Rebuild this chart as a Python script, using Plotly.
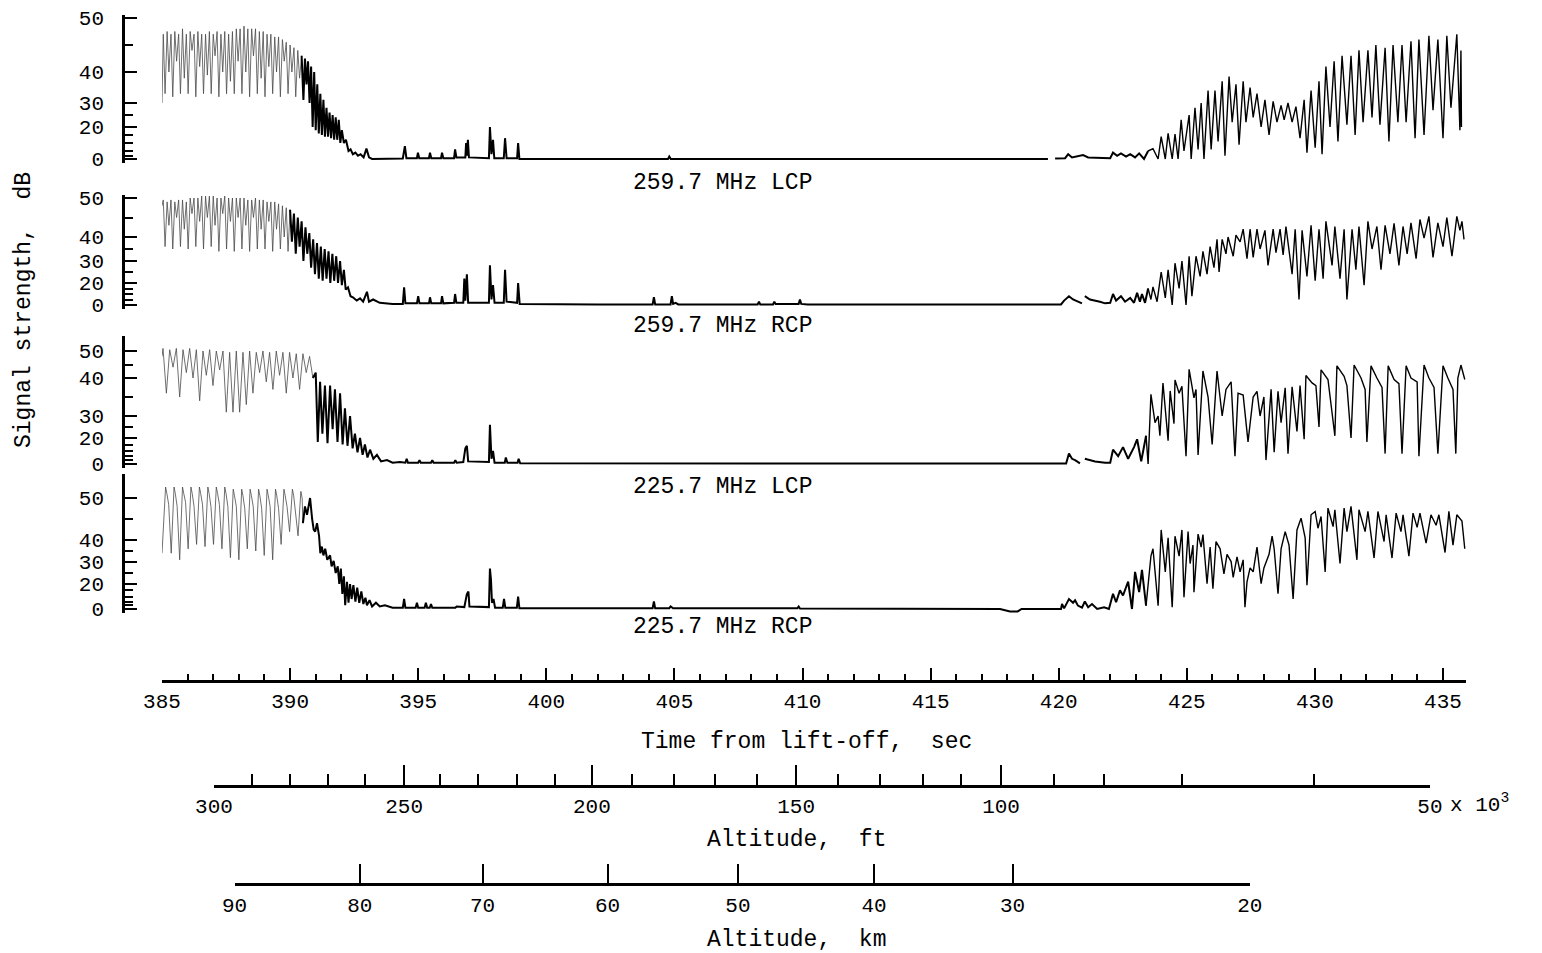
import numpy as np
import plotly.graph_objects as go

# ---------------- data ----------------
TIME_MAJOR = [385, 390, 395, 400, 405, 410, 415, 420, 425, 430, 435]
TIME_RANGE = [385, 435.9]

# altitude scales (time at which each altitude value is reached)
ALT_FT_VALUES = [300, 290, 280, 270, 260, 250, 240, 230, 220, 210, 200, 190, 180, 170, 160,
                 150, 140, 130, 120, 110, 100, 90, 80, 70, 60, 50]
ALT_FT_TIMES = [387.03, 388.51, 390.00, 391.48, 392.92, 394.45, 395.85, 397.33, 398.86, 400.34,
                401.78, 403.35, 404.98, 406.58, 408.22, 409.75, 411.39, 413.02, 414.70, 416.19,
                417.75, 419.82, 421.77, 424.81, 429.96, 434.49]
ALT_FT_LABELED = [300, 250, 200, 150, 100, 50]
ALT_KM_VALUES = [90, 80, 70, 60, 50, 40, 30, 20]
ALT_KM_TIMES = [387.83, 392.72, 397.51, 402.39, 407.48, 412.79, 418.20, 427.46]

PANEL_NAMES = ["259.7 MHz LCP", "259.7 MHz RCP", "225.7 MHz LCP", "225.7 MHz RCP"]
DB_TICKS = [0, 20, 30, 40, 50]

# Panel 1: 259.7 MHz LCP  (time s, signal dB)
P1_SAMPLES = [
    (385.00, 30), (385.05, 47), (385.12, 33), (385.20, 47.5), (385.27, 40), (385.35, 47),
    (385.42, 32), (385.50, 47.5), (385.57, 42), (385.65, 47), (385.72, 33), (385.80, 48),
    (385.87, 38), (385.95, 47), (386.02, 33), (386.10, 47.5), (386.17, 44), (386.25, 47),
    (386.32, 32), (386.40, 47.5), (386.47, 41), (386.55, 47), (386.62, 33), (386.70, 47),
    (386.77, 39), (386.85, 47.5), (386.92, 33), (387.00, 47), (387.07, 43), (387.15, 47.5),
    (387.22, 32), (387.30, 47), (387.37, 40), (387.45, 47.5), (387.52, 33), (387.60, 47),
    (387.67, 37), (387.75, 47.5), (387.82, 33), (387.90, 48), (387.97, 42), (388.05, 48),
    (388.12, 33), (388.20, 48.5), (388.27, 40), (388.35, 48), (388.42, 32), (388.50, 48),
    (388.57, 43), (388.65, 48), (388.72, 33), (388.80, 47.5), (388.87, 38), (388.95, 47.5),
    (389.02, 32), (389.10, 47), (389.17, 41), (389.25, 47), (389.32, 33), (389.40, 46.5),
    (389.47, 40), (389.55, 46.5), (389.62, 32), (389.70, 46), (389.77, 42), (389.85, 45.5),
    (389.92, 33), (390.00, 45), (390.07, 40), (390.15, 44.5), (390.22, 32), (390.30, 44),
    (390.37, 38), (390.45, 43),
    (390.52, 31), (390.58, 42.5), (390.64, 36), (390.70, 42), (390.76, 30), (390.82, 41),
    (390.88, 20), (390.94, 40), (391.00, 18), (391.06, 36), (391.12, 16), (391.18, 33),
    (391.24, 15), (391.30, 31), (391.36, 14), (391.42, 28), (391.48, 14), (391.54, 26),
    (391.60, 13), (391.66, 25), (391.72, 12), (391.78, 24), (391.84, 12), (391.90, 23),
    (391.96, 10), (392.02, 18), (392.10, 10), (392.18, 12), (392.28, 5), (392.36, 6),
    (392.45, 3), (392.55, 4), (392.65, 2), (392.75, 3), (392.87, 1), (392.98, 6.5),
    (393.08, 1), (393.20, 0), (393.40, 0), (394.40, 0.3), (394.48, 8), (394.54, 0.5),
    (394.95, 0.5), (394.99, 4), (395.04, 0.5), (395.42, 0.5), (395.46, 4), (395.51, 0.5),
    (395.89, 0.5), (395.93, 4), (395.98, 0.5), (396.40, 0.5), (396.44, 6), (396.49, 1),
    (396.84, 1), (396.87, 10), (396.90, 2), (396.94, 12), (396.98, 1), (397.76, 0.5),
    (397.80, 20), (397.86, 3), (397.92, 12), (397.97, 0.5), (398.34, 0.5), (398.39, 13),
    (398.45, 0.5), (398.86, 0.5), (398.90, 10), (398.95, 0), (404.75, 0), (404.80, 1.5),
    (404.86, 0), (419.58, 0), (419.70, None), (419.86, 0.3), (420.25, 0.5), (420.37, 3),
    (420.52, 1), (420.95, 2.5), (421.15, 1), (422.01, 0.5), (422.12, 4), (422.28, 2),
    (422.43, 3.5), (422.63, 1.5), (422.79, 3), (422.98, 1), (423.14, 3.5), (423.33, 0),
    (423.49, 5), (423.68, 6.5), (423.88, 0), (424.00, 14), (424.16, 0), (424.27, 16),
    (424.43, 0), (424.54, 15.5), (424.66, 0), (424.78, 23), (424.89, 5), (425.09, 25),
    (425.17, 0), (425.32, 28), (425.44, 6), (425.56, 30), (425.67, 0), (425.83, 34),
    (425.95, 6), (426.10, 34), (426.22, 11), (426.38, 37), (426.49, 2), (426.65, 38.5),
    (426.77, 22), (426.92, 36), (427.04, 9), (427.20, 37), (427.31, 22), (427.47, 35),
    (427.59, 24), (427.74, 33), (427.90, 20), (428.05, 31), (428.21, 15), (428.37, 30.5),
    (428.52, 22), (428.68, 29), (428.80, 23), (428.95, 30), (429.11, 22), (429.26, 28.5),
    (429.42, 13), (429.58, 31), (429.69, 4), (429.85, 34), (430.01, 7), (430.16, 37),
    (430.28, 3), (430.43, 41), (430.59, 20), (430.75, 42), (430.90, 11), (431.06, 43),
    (431.25, 21), (431.41, 43), (431.57, 15), (431.72, 44), (431.88, 22), (432.07, 44),
    (432.23, 24), (432.38, 45), (432.54, 21), (432.74, 44.5), (432.89, 11), (433.05, 45),
    (433.24, 22), (433.40, 45), (433.56, 22), (433.75, 45.7), (433.91, 13), (434.06, 46),
    (434.26, 15), (434.45, 46.7), (434.61, 27), (434.80, 46), (435.00, 13), (435.15, 46.7),
    (435.31, 28), (435.54, 47), (435.66, 18), (435.70, 44), (435.72, 20),
]

# Panel 2: 259.7 MHz RCP
P2_SAMPLES = [
    (385.00, 48), (385.05, 49.5), (385.12, 36), (385.20, 49), (385.27, 43), (385.35, 49.5),
    (385.42, 35), (385.50, 49), (385.57, 45), (385.65, 49.5), (385.72, 36), (385.80, 49.5),
    (385.87, 42), (385.95, 49), (386.02, 35), (386.10, 50), (386.17, 46), (386.25, 50),
    (386.32, 36), (386.40, 50), (386.47, 44), (386.55, 50.5), (386.62, 35), (386.70, 50.5),
    (386.77, 45), (386.85, 50.5), (386.92, 36), (387.00, 50.5), (387.07, 43), (387.15, 50),
    (387.22, 34), (387.30, 50), (387.37, 46), (387.45, 50.5), (387.52, 35), (387.60, 50),
    (387.67, 44), (387.75, 50), (387.82, 34), (387.90, 50), (387.97, 45), (388.05, 50),
    (388.12, 35), (388.20, 50), (388.27, 43), (388.35, 49.5), (388.42, 34), (388.50, 49.5),
    (388.57, 45), (388.65, 50), (388.72, 35), (388.80, 49.5), (388.87, 42), (388.95, 49.5),
    (389.02, 35), (389.10, 49), (389.17, 44), (389.25, 49), (389.32, 34), (389.40, 49),
    (389.47, 42), (389.55, 48.5), (389.62, 35), (389.70, 48), (389.77, 40), (389.85, 47.5),
    (389.92, 34), (390.00, 47),
    (390.07, 38), (390.15, 46), (390.22, 33), (390.30, 45), (390.37, 36), (390.45, 44),
    (390.52, 30), (390.60, 42.5), (390.67, 33), (390.75, 41), (390.82, 27), (390.90, 39),
    (390.97, 24), (391.05, 37.5), (391.12, 22), (391.20, 36), (391.27, 21), (391.35, 35),
    (391.42, 22), (391.50, 34), (391.57, 20), (391.65, 33), (391.72, 21), (391.80, 32),
    (391.87, 20), (391.95, 30), (392.02, 18), (392.10, 26), (392.17, 14), (392.26, 16),
    (392.36, 8), (392.45, 7), (392.60, 4), (392.73, 6), (392.85, 3), (393.00, 12),
    (393.08, 3), (393.24, 5), (393.50, 2), (394.00, 1), (394.40, 1), (394.45, 16),
    (394.50, 1.5), (394.95, 1.5), (395.00, 8), (395.05, 1.5), (395.42, 1.5), (395.46, 7),
    (395.51, 1.5), (395.89, 1.5), (395.93, 8), (395.98, 1.5), (396.40, 2), (396.44, 10),
    (396.49, 2), (396.76, 2), (396.80, 22), (396.84, 4), (396.90, 24), (396.95, 2),
    (397.76, 2), (397.80, 28), (397.86, 5), (397.92, 18), (397.98, 2), (398.34, 2),
    (398.39, 26), (398.45, 3), (398.86, 2), (398.90, 20), (398.96, 1), (402.00, 0.5),
    (404.15, 0.5), (404.20, 7), (404.25, 0.5), (404.85, 0.5), (404.90, 8), (404.95, 1),
    (405.05, 2), (405.15, 0.5), (408.25, 0.5), (408.30, 3), (408.35, 0.5), (408.85, 0.5),
    (408.90, 3), (408.95, 1), (409.85, 1), (409.90, 5), (409.95, 1), (410.20, 0.5),
    (417.71, 0), (420.09, 0.5), (420.21, 4), (420.40, 8), (420.56, 5), (420.75, 3),
    (420.91, 1.5), (420.96, None), (421.02, 8), (421.22, 5), (421.61, 3), (421.81, 1.5),
    (422.01, 2), (422.12, 10), (422.24, 4), (422.43, 8), (422.59, 3), (422.79, 6.5),
    (422.94, 2), (423.06, 11), (423.17, 3), (423.25, 10), (423.37, 2), (423.49, 15),
    (423.60, 5), (423.68, 16.5), (423.84, 3), (424.00, 25), (424.16, 6.5), (424.27, 26),
    (424.43, 0), (424.54, 29), (424.70, 15), (424.81, 30), (424.97, 0), (425.09, 32),
    (425.20, 8), (425.36, 32), (425.52, 23), (425.63, 34), (425.79, 24), (425.91, 36),
    (426.06, 27), (426.18, 39), (426.26, 25), (426.38, 39), (426.53, 33), (426.61, 40),
    (426.81, 32), (426.92, 40.5), (427.08, 38), (427.20, 42), (427.35, 31), (427.47, 42),
    (427.59, 31.5), (427.74, 42), (427.86, 35), (428.05, 41.7), (428.17, 28), (428.37, 42),
    (428.48, 33.5), (428.64, 42), (428.76, 32.5), (428.87, 42.7), (429.11, 24), (429.23, 42),
    (429.38, 5), (429.50, 41.7), (429.69, 23), (429.85, 43), (430.01, 21), (430.16, 42),
    (430.32, 22), (430.43, 44), (430.67, 28), (430.78, 42.7), (430.98, 22), (431.14, 42),
    (431.25, 5), (431.45, 42), (431.60, 26), (431.72, 42.7), (431.92, 18), (432.07, 44),
    (432.23, 35), (432.42, 42.7), (432.58, 26), (432.74, 43), (432.93, 33), (433.09, 43.5),
    (433.28, 28), (433.44, 42.7), (433.60, 33), (433.75, 43.6), (433.95, 31), (434.10, 44.5),
    (434.26, 39.5), (434.45, 45.3), (434.61, 31.5), (434.80, 43.6), (435.00, 36), (435.15, 45),
    (435.35, 32), (435.54, 45.3), (435.66, 41.7), (435.74, 44), (435.82, 39),
]

# Panel 3: 225.7 MHz LCP
P3_SAMPLES = [
    (385.00, 48), (385.04, 51), (385.17, 36), (385.30, 50.5), (385.43, 44), (385.56, 51),
    (385.69, 35), (385.82, 50.5), (385.95, 42), (386.08, 51), (386.21, 40), (386.34, 50.5),
    (386.47, 34), (386.60, 50), (386.73, 41), (386.86, 50.5), (386.99, 38), (387.12, 50),
    (387.25, 43), (387.38, 50), (387.51, 31), (387.64, 49.5), (387.77, 31), (387.90, 50),
    (388.03, 31), (388.16, 49.5), (388.29, 33), (388.42, 50), (388.55, 36), (388.68, 49.5),
    (388.81, 42), (388.94, 50), (389.07, 39), (389.20, 49.5), (389.33, 37), (389.46, 50),
    (389.59, 41), (389.72, 49.5), (389.85, 36), (389.98, 49.5), (390.11, 40), (390.24, 49),
    (390.37, 37), (390.50, 49), (390.63, 42), (390.76, 48), (390.89, 40),
    (391.00, 42), (391.08, 17), (391.17, 39), (391.26, 22), (391.36, 38), (391.46, 16),
    (391.56, 38), (391.66, 24), (391.75, 37), (391.85, 17), (391.95, 36), (392.05, 15),
    (392.14, 32), (392.24, 14), (392.34, 30), (392.44, 12), (392.53, 22), (392.63, 9),
    (392.73, 20), (392.83, 7), (392.92, 15), (393.02, 5), (393.12, 11), (393.25, 4),
    (393.39, 7), (393.55, 2), (393.78, 3), (394.00, 1), (394.29, 1.5), (394.50, 1),
    (394.55, 4), (394.60, 1), (395.00, 1), (395.05, 3), (395.10, 1), (395.50, 1),
    (395.55, 3), (395.60, 1), (396.40, 1), (396.45, 3), (396.50, 1), (396.76, 1.5),
    (396.84, 12), (396.90, 14), (396.95, 2), (397.76, 1.5), (397.80, 26), (397.86, 4),
    (397.92, 10), (397.98, 1), (398.38, 1), (398.42, 5), (398.48, 1), (398.88, 1),
    (398.92, 4), (398.98, 0.5), (417.71, 0.3), (420.29, 0.3), (420.40, 8), (420.52, 4),
    (420.64, 3), (420.83, 0.5), (420.92, None), (421.02, 4), (421.42, 2), (421.81, 1),
    (422.01, 1), (422.12, 11), (422.32, 6), (422.51, 13), (422.71, 4), (422.94, 13),
    (423.06, 19), (423.22, 2), (423.41, 21), (423.49, 0), (423.60, 35.7), (423.76, 27),
    (423.88, 30), (423.95, 21), (424.07, 38.7), (424.27, 18), (424.35, 36.6), (424.50, 26.5),
    (424.54, 39.5), (424.70, 36), (424.81, 37.8), (424.97, 6), (425.09, 43.2), (425.28, 34.8),
    (425.36, 37), (425.44, 7), (425.63, 42.6), (425.83, 35), (425.99, 15), (426.18, 42.6),
    (426.38, 30), (426.53, 37), (426.73, 39), (426.88, 6), (427.00, 36), (427.20, 35.5),
    (427.39, 17), (427.59, 35), (427.74, 36.5), (427.86, 30), (428.01, 35), (428.09, 3),
    (428.29, 37), (428.41, 9), (428.56, 36.5), (428.68, 27), (428.84, 37.4), (428.95, 8),
    (429.11, 37.7), (429.30, 23), (429.42, 38), (429.58, 19), (429.65, 40.9), (429.89, 38.7),
    (430.04, 38), (430.16, 25), (430.24, 43), (430.51, 39.6), (430.78, 21), (430.86, 44.5),
    (431.14, 40.6), (431.25, 38), (431.41, 20), (431.53, 44.8), (431.80, 40), (431.96, 37),
    (432.03, 17), (432.19, 44.5), (432.42, 40), (432.62, 37.5), (432.74, 8), (432.86, 44.5),
    (433.09, 39.6), (433.28, 38.5), (433.40, 8), (433.56, 44.5), (433.75, 40), (433.99, 39),
    (434.06, 6), (434.26, 44.8), (434.45, 40), (434.65, 37.5), (434.80, 8), (435.00, 44.5),
    (435.19, 40), (435.39, 37), (435.50, 8), (435.58, 40), (435.70, 44.8), (435.85, 39.6),
]

# Panel 4: 225.7 MHz RCP
P4_SAMPLES = [
    (385.00, 34),
    (385.14, 52.5), (385.19, 51), (385.26, 48.5), (385.36, 34),
    (385.47, 52.5), (385.52, 51), (385.59, 48), (385.69, 31),
    (385.80, 52.5), (385.85, 51), (385.92, 49), (386.02, 36),
    (386.13, 52.5), (386.18, 51), (386.25, 48), (386.35, 38),
    (386.46, 52.5), (386.51, 51), (386.58, 48.5), (386.68, 37),
    (386.79, 52.5), (386.84, 51), (386.91, 48), (387.01, 38),
    (387.12, 52.5), (387.17, 51), (387.24, 48.5), (387.34, 36),
    (387.45, 52.5), (387.50, 51), (387.57, 48), (387.67, 32),
    (387.78, 52), (387.83, 50.5), (387.90, 48), (388.00, 31),
    (388.11, 52), (388.16, 50.5), (388.23, 47.5), (388.33, 36),
    (388.44, 52), (388.49, 50.5), (388.56, 48), (388.66, 35),
    (388.77, 52), (388.82, 50.5), (388.89, 47.5), (388.99, 33),
    (389.10, 52), (389.15, 50.5), (389.22, 48), (389.32, 31),
    (389.43, 52), (389.48, 50.5), (389.55, 47.5), (389.65, 38),
    (389.76, 52), (389.81, 50.5), (389.88, 48), (389.98, 42),
    (390.09, 52), (390.14, 50.5), (390.21, 46.5), (390.31, 41),
    (390.42, 51.5), (390.47, 50), (390.50, 44),
    (390.58, 48), (390.66, 46), (390.78, 50), (390.86, 45), (390.92, 42.5), (390.98, 42),
    (391.05, 44), (391.13, 41), (391.18, 34), (391.24, 37), (391.30, 33), (391.37, 36),
    (391.45, 31), (391.56, 33), (391.62, 28), (391.70, 30.5), (391.78, 25), (391.86, 28),
    (391.92, 20), (391.98, 27), (392.04, 12), (392.10, 23.5), (392.15, 3), (392.22, 21),
    (392.28, 5), (392.34, 20), (392.40, 8), (392.47, 19), (392.55, 6), (392.62, 17),
    (392.70, 5), (392.78, 14), (392.86, 4), (392.94, 9), (393.00, 3), (393.10, 7),
    (393.20, 2), (393.35, 5), (393.50, 2), (393.70, 3), (394.00, 1), (394.40, 1),
    (394.45, 8), (394.50, 1), (394.90, 1), (394.95, 5), (395.00, 1), (395.25, 1),
    (395.30, 5), (395.35, 1), (395.45, 1), (395.50, 4), (395.55, 1), (396.45, 1),
    (396.50, 2), (396.80, 1.5), (396.90, 12), (396.96, 14), (397.00, 2), (397.76, 1.5),
    (397.80, 27), (397.84, 22), (397.88, 5), (397.94, 8), (398.00, 1), (398.30, 1),
    (398.35, 8), (398.40, 1), (398.85, 1), (398.90, 10), (398.95, 0.5), (404.15, 0.5),
    (404.20, 6), (404.25, 0.5), (404.80, 0.5), (404.85, 2), (404.95, 0.5), (409.80, 0.5),
    (409.85, 2), (409.90, 0.3), (417.71, 0), (418.10, -2), (418.40, -2), (418.55, 0),
    (420.09, 0), (420.13, 4), (420.21, 0.5), (420.40, 8), (420.56, 5), (420.64, 7),
    (420.75, 2.7), (420.91, 1), (421.02, 6), (421.15, 1.4), (421.30, 4), (421.50, 0),
    (421.77, 1.4), (421.96, 0), (422.12, 12.2), (422.24, 5.4), (422.39, 14.9), (422.51, 10.8),
    (422.71, 21.1), (422.86, 0), (422.98, 25.5), (423.14, 13.5), (423.25, 26.4), (423.41, 2.7),
    (423.60, 32.7), (423.68, 36), (423.80, 21), (423.88, 2.7), (424.00, 42.4), (424.16, 25.5),
    (424.27, 40.5), (424.43, 1.4), (424.54, 40.9), (424.70, 32.7), (424.81, 42.4), (424.89, 9.5),
    (425.05, 42), (425.13, 29.3), (425.24, 37.7), (425.28, 13.5), (425.44, 41.4), (425.56, 36.8),
    (425.63, 41.3), (425.79, 20.1), (425.91, 36.8), (426.02, 16.2), (426.14, 39.3), (426.30, 36),
    (426.45, 24.6), (426.57, 33.5), (426.73, 30.2), (426.81, 23), (426.96, 32.3), (427.08, 25.5),
    (427.20, 31), (427.27, 1.4), (427.35, 21), (427.47, 27.3), (427.59, 25.5), (427.74, 36.8),
    (427.90, 20.2), (428.01, 27.3), (428.21, 33.5), (428.33, 40.9), (428.41, 36), (428.56, 12.2),
    (428.68, 36), (428.84, 42), (428.99, 37.7), (429.15, 8.1), (429.30, 42.4), (429.46, 45.2),
    (429.62, 40.5), (429.69, 19), (429.85, 46), (430.01, 46.8), (430.12, 42.8), (430.24, 45.6),
    (430.40, 25.5), (430.51, 47.6), (430.71, 43.2), (430.78, 47.2), (430.98, 29.3), (431.14, 47.6),
    (431.25, 42), (431.41, 48), (431.64, 31), (431.72, 47.2), (431.96, 42), (432.07, 46.8),
    (432.31, 31.8), (432.46, 46.8), (432.70, 39.3), (432.78, 46), (433.01, 31.8), (433.17, 46.4),
    (433.36, 42), (433.44, 46), (433.67, 32.7), (433.83, 46.4), (433.99, 43), (434.10, 46.4),
    (434.34, 38.6), (434.53, 46), (434.73, 43.5), (434.84, 46), (435.08, 34.3), (435.23, 46.8),
    (435.39, 37.7), (435.54, 46), (435.74, 44.5), (435.85, 36),
]

ALL_SAMPLES = [P1_SAMPLES, P2_SAMPLES, P3_SAMPLES, P4_SAMPLES]
FAST_END = [390.45, 390.00, 390.89, 390.50]   # end of the fast-writing (faint) segment
OSC_START = 423.41                            # start of the re-acquisition oscillations

# ---------------- layout / scales ----------------
W, H = 1542, 953
FONT = "Liberation Mono, DejaVu Sans Mono, monospace"
X0_PX, PX_PER_S = 162.0, 25.62
YAX_PX = 123.0

# non-linear dB scale of each strip (recorder calibration)
SCALE_DB = [-5, 0, 20, 30, 40, 50, 55]
SCALE_U = [
    [-6, 0, 32, 56, 87, 141, 168],
    [-6, 0, 22, 44, 68, 107, 126],
    [-6, 0, 26, 48, 86, 113, 126],
    [-6, 0, 25, 47, 69, 111, 133],
]
PANEL_BASE_PX = [159, 305, 464, 609]
PANEL_TOP_PX = [15, 195, 336, 474]
LABEL_Y_PX = [183, 326, 487, 627]
MINOR_DB = [
    [2, 5, 10, 15, 25, 45],
    [5, 10, 15, 25, 35, 45],
    [3, 6, 10, 15, 25, 35, 45],
    [3, 6, 10, 15, 25, 35, 45],
]


def tx(t):
    return (X0_PX + (t - 385.0) * PX_PER_S) / W


def fy(py):
    return 1 - py / H


def to_u(vals, k):
    return [None if v is None else float(np.interp(v, SCALE_DB, SCALE_U[k])) for v in vals]


fig = go.Figure()


def add_seg(seg, k, color, width):
    yname = "y" if k == 0 else f"y{k + 1}"
    fig.add_trace(go.Scatter(
        x=[s[0] for s in seg], y=to_u([s[1] for s in seg], k),
        mode="lines", line=dict(color=color, width=width),
        xaxis="x", yaxis=yname, showlegend=False, hoverinfo="skip",
        connectgaps=False))


for k, samples in enumerate(ALL_SAMPLES):
    fast = [s for s in samples if s[0] <= FAST_END[k]]
    right = [s for s in samples if s[0] >= OSC_START]
    mid = [s for s in samples if FAST_END[k] <= s[0] < OSC_START] + right[:1]
    add_seg(fast, k, "#4a4a4a", 0.8)
    add_seg(mid, k, "black", 2.0)
    add_seg(right, k, "black", 1.4)

# dummy traces so that the altitude axes exist
fig.add_trace(go.Scatter(x=[ALT_FT_TIMES[0]], y=[None], xaxis="x2", yaxis="y",
                         mode="markers", showlegend=False, hoverinfo="skip"))
fig.add_trace(go.Scatter(x=[ALT_KM_TIMES[0]], y=[None], xaxis="x3", yaxis="y",
                         mode="markers", showlegend=False, hoverinfo="skip"))

layout = dict(
    template="none",
    width=W, height=H, margin=dict(l=0, r=0, t=0, b=0, pad=0, autoexpand=False),
    paper_bgcolor="white", plot_bgcolor="rgba(0,0,0,0)", showlegend=False,
    font=dict(family=FONT, color="black", size=20),
)

tickfont = dict(family=FONT, size=21, color="black")

layout["xaxis"] = dict(
    domain=[tx(TIME_RANGE[0]), tx(TIME_RANGE[1])], range=TIME_RANGE,
    anchor="free", position=fy(681), automargin=False,
    showline=True, linewidth=3, linecolor="black",
    tickmode="linear", tick0=385, dtick=5,
    ticks="inside", ticklen=12, tickwidth=2, tickcolor="black",
    tickfont=tickfont, ticklabelstandoff=0,
    minor=dict(ticks="inside", ticklen=6, tickwidth=1.5, tickcolor="black", dtick=1, tick0=385),
    showgrid=False, zeroline=False,
)

ft_major_t = [t for t, v in zip(ALT_FT_TIMES, ALT_FT_VALUES) if v in ALT_FT_LABELED]
ft_major_v = [v for v in ALT_FT_VALUES if v in ALT_FT_LABELED]
ft_minor_t = [t for t, v in zip(ALT_FT_TIMES, ALT_FT_VALUES) if v not in ALT_FT_LABELED]
layout["xaxis2"] = dict(
    domain=[tx(ALT_FT_TIMES[0]), tx(ALT_FT_TIMES[-1])],
    range=[ALT_FT_TIMES[0], ALT_FT_TIMES[-1]],
    anchor="free", position=fy(786), automargin=False,
    showline=True, linewidth=3, linecolor="black",
    tickmode="array", tickvals=ft_major_t, ticktext=[str(v) for v in ft_major_v],
    ticks="inside", ticklen=20, tickwidth=2, tickcolor="black",
    tickfont=tickfont, ticklabelstandoff=0,
    minor=dict(ticks="inside", ticklen=11, tickwidth=1.5, tickcolor="black",
               tickmode="array", tickvals=ft_minor_t),
    showgrid=False, zeroline=False,
)
layout["xaxis3"] = dict(
    domain=[tx(ALT_KM_TIMES[0]), tx(ALT_KM_TIMES[-1])],
    range=[ALT_KM_TIMES[0], ALT_KM_TIMES[-1]],
    anchor="free", position=fy(884), automargin=False,
    showline=True, linewidth=3, linecolor="black",
    tickmode="array", tickvals=ALT_KM_TIMES, ticktext=[str(v) for v in ALT_KM_VALUES],
    ticks="inside", ticklen=19, tickwidth=2, tickcolor="black",
    tickfont=tickfont, ticklabelstandoff=1,
    showgrid=False, zeroline=False,
)

for k in range(4):
    key = "yaxis" if k == 0 else f"yaxis{k + 1}"
    base, top = PANEL_BASE_PX[k], PANEL_TOP_PX[k]
    layout[key] = dict(
        domain=[fy(base + 4), fy(top)], range=[-4, base - top],
        anchor="free", position=YAX_PX / W, automargin=False,
        showline=True, linewidth=2.5, linecolor="black",
        tickmode="array", tickvals=to_u(DB_TICKS, k), ticktext=[str(v) for v in DB_TICKS],
        ticks="inside", ticklen=12, tickwidth=2, tickcolor="black",
        tickfont=tickfont, ticklabelstandoff=14,
        minor=dict(ticks="inside", ticklen=8, tickwidth=1.5, tickcolor="black",
                   tickmode="array", tickvals=to_u(MINOR_DB[k], k)),
        showgrid=False, zeroline=False,
    )

annotations = []
for k in range(4):
    annotations.append(dict(text=PANEL_NAMES[k], x=722 / W, y=fy(LABEL_Y_PX[k]),
                            xref="paper", yref="paper", showarrow=False,
                            font=dict(family=FONT, size=23, color="black"),
                            xanchor="center", yanchor="middle"))
annotations += [
    dict(text="Signal strength,  dB", x=24 / W, y=fy(310), xref="paper", yref="paper",
         textangle=-90, showarrow=False, font=dict(family=FONT, size=23, color="black"),
         xanchor="center", yanchor="middle"),
    dict(text="Time from lift-off,  sec", x=806 / W, y=fy(742), xref="paper", yref="paper",
         showarrow=False, font=dict(family=FONT, size=23, color="black"),
         xanchor="center", yanchor="middle"),
    dict(text="Altitude,  ft", x=796 / W, y=fy(840), xref="paper", yref="paper",
         showarrow=False, font=dict(family=FONT, size=23, color="black"),
         xanchor="center", yanchor="middle"),
    dict(text="Altitude,  km", x=796 / W, y=fy(940), xref="paper", yref="paper",
         showarrow=False, font=dict(family=FONT, size=23, color="black"),
         xanchor="center", yanchor="middle"),
    dict(text="x 10<sup>3</sup>", x=1448 / W, y=fy(803), xref="paper", yref="paper",
         showarrow=False, font=dict(family=FONT, size=21, color="black"),
         xanchor="left", yanchor="middle"),
]
layout["annotations"] = annotations

fig.update_layout(**layout)
fig.write_html("out.html")
